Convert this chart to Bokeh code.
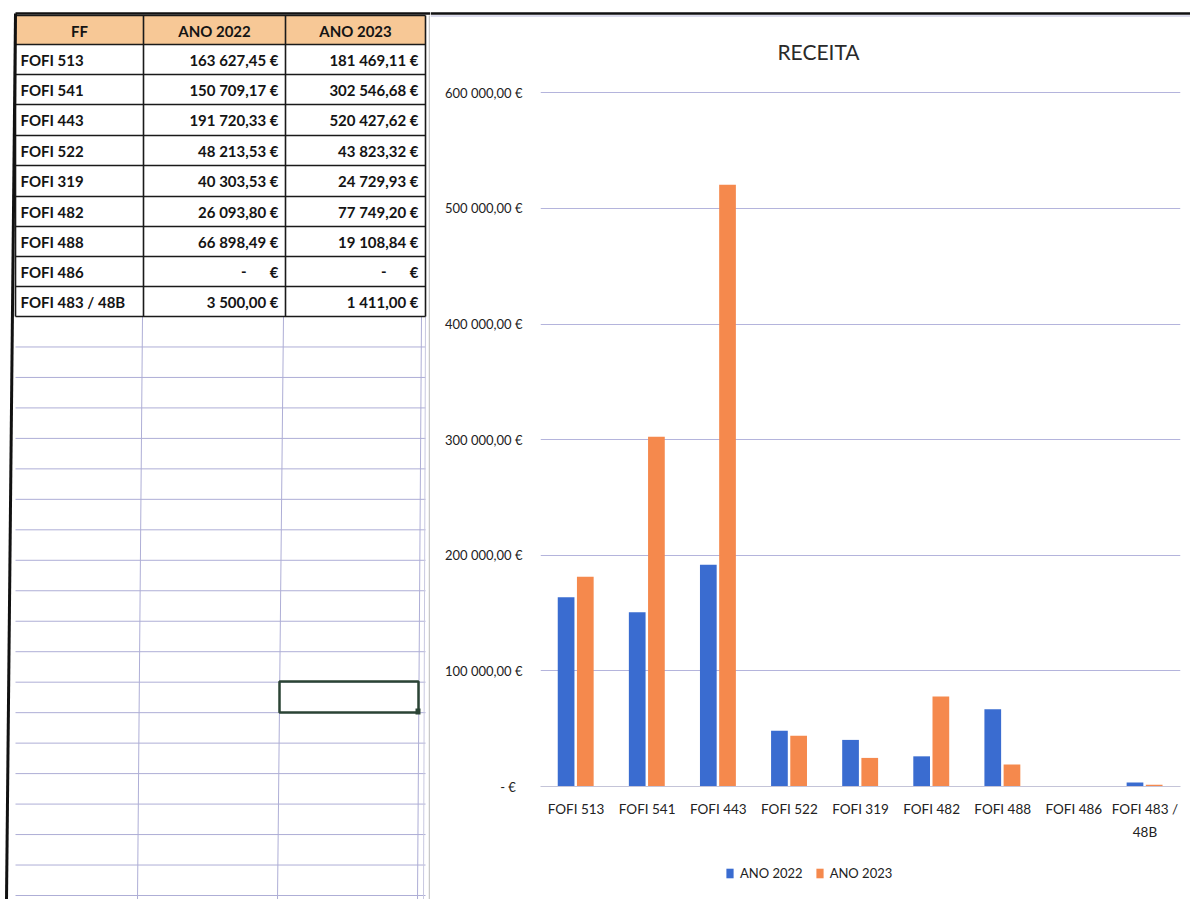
from bokeh.plotting import figure
from bokeh.layouts import row, column
from bokeh.models import (Range1d, FactorRange, CustomJSTickFormatter, FixedTicker,
                          Legend, LegendItem, ColumnDataSource)
from bokeh.transform import dodge
from bokeh.core.properties import value
from bokeh.embed import file_html
from bokeh.resources import INLINE

# ---------------- data ----------------
ff = ["FOFI 513", "FOFI 541", "FOFI 443", "FOFI 522", "FOFI 319",
      "FOFI 482", "FOFI 488", "FOFI 486", "FOFI 483 /\n48B"]
ff_table = ["FOFI 513", "FOFI 541", "FOFI 443", "FOFI 522", "FOFI 319",
            "FOFI 482", "FOFI 488", "FOFI 486", "FOFI 483 /  48B"]
ano_2022 = [163627.45, 150709.17, 191720.33, 48213.53, 40303.53,
            26093.80, 66898.49, 0.0, 3500.00]
ano_2023 = [181469.11, 302546.68, 520427.62, 43823.32, 24729.93,
            77749.20, 19108.84, 0.0, 1411.00]
series = ["ANO 2022", "ANO 2023"]
header = ["FF", "ANO 2022", "ANO 2023"]
y_ticks = [0, 100000, 200000, 300000, 400000, 500000, 600000]
title_text = "RECEITA"

BLUE = "#3A6CD0"
ORANGE = "#F5894D"
FONT = "Lato"
INK = "#141414"


def fmt(v):
    if v == 0:
        return None
    s = f"{v:,.2f}".replace(",", " ").replace(".", ",")
    return s + " €"


def blank(fig):
    fig.frame_align = False
    fig.grid.visible = False
    fig.outline_line_color = None
    fig.background_fill_color = "white"
    fig.border_fill_color = "white"


# ---------------- table (left) ----------------
t = figure(width=430, height=899, x_range=Range1d(0, 430), y_range=Range1d(899, 0),
           output_backend="svg", toolbar_location=None, min_border=0,
           x_axis_type=None, y_axis_type=None)
blank(t)

col_x = [15, 143, 285, 425]
row_y = [15, 44, 74, 104, 135, 165, 196, 226, 256, 286, 316]

# header fill
t.quad(left=[15], right=[425], top=[15], bottom=[44], fill_color="#F7C896", line_color=None)

# light spreadsheet grid below the table
grid_step = (895 - 316) / 19.0
gys = [316 + k * grid_step for k in range(1, 20)]
t.multi_line(xs=[[15, 425]] * len(gys), ys=[[g, g] for g in gys],
             line_color="#AEAED6", line_width=1)
t.multi_line(xs=[[142, 137], [283, 277], [421, 417]], ys=[[316, 899]] * 3,
             line_color="#AEAED6", line_width=1)
t.multi_line(xs=[[425, 423]], ys=[[316, 899]], line_color="#C8C8E0", line_width=1)

# black table lines
t.multi_line(xs=[[15, 425]] * len(row_y), ys=[[y, y] for y in row_y],
             line_color="#1a1a1a", line_width=1.6)
t.multi_line(xs=[[x, x] for x in col_x], ys=[[15, 316]] * len(col_x),
             line_color="#1a1a1a", line_width=1.6)
# outer borders
t.line(x=[15, 430], y=[13, 13], line_color="#111111", line_width=2.5)
t.line(x=[15, 6], y=[13, 899], line_color="#111111", line_width=3)
# chart panel edge
t.line(x=[429, 429], y=[15, 899], line_color="#C8C8C8", line_width=1.5)

# selected cell
t.quad(left=[279], right=[418], top=[681], bottom=[712], fill_color=None,
       line_color="#2B4435", line_width=2.5)
t.quad(left=[415], right=[420], top=[708], bottom=[714], fill_color="#2B4435",
       line_color=None)

# header text
hx = [79, 214, 355]
hy = [30] * 3
t.text(x=hx, y=hy, text=header, text_align="center", text_baseline="middle",
       text_font=value(FONT), text_font_size="15px", text_font_style="bold",
       text_color=INK)

# body text
centers = [(row_y[i] + row_y[i + 1]) / 2 for i in range(1, 10)]
t.text(x=[20] * 9, y=centers, text=ff_table, text_align="left", text_baseline="middle",
       text_font=value(FONT), text_font_size="15px", text_font_style="bold",
       text_color=INK)
for vals, xr in ((ano_2022, 278), (ano_2023, 418)):
    txt, ys, dash_y = [], [], []
    for v, cy in zip(vals, centers):
        s = fmt(v)
        if s is None:
            dash_y.append(cy)
        else:
            txt.append(s)
            ys.append(cy)
    t.text(x=[xr] * len(txt), y=ys, text=txt, text_align="right", text_baseline="middle",
           text_font=value(FONT), text_font_size="15px", text_font_style="bold",
           text_color=INK)
    t.text(x=[xr] * len(dash_y), y=dash_y, text=["€"] * len(dash_y), text_align="right",
           text_baseline="middle", text_font=value(FONT), text_font_size="15px",
           text_font_style="bold", text_color=INK)
    t.text(x=[xr - 32] * len(dash_y), y=dash_y, text=["-"] * len(dash_y), text_align="right",
           text_baseline="middle", text_font=value(FONT), text_font_size="15px",
           text_font_style="bold", text_color=INK)

# ---------------- top strip above chart (border + title) ----------------
STRIP_H = 70
LEG_H = 50
strip = figure(width=760, height=STRIP_H, x_range=Range1d(0, 760), y_range=Range1d(STRIP_H, 0),
               output_backend="svg", toolbar_location=None, min_border=0,
               x_axis_type=None, y_axis_type=None)
blank(strip)
strip.line(x=[0, 760], y=[13, 13], line_color="#111111", line_width=2.5)
strip.line(x=[0, 760], y=[15.5, 15.5], line_color="#B8B8DA", line_width=1)
strip.text(x=[388], y=[51], text=[title_text], text_align="center", text_baseline="middle",
           text_font=value(FONT), text_font_size="21px", text_color="#2a2a2a")

# ---------------- chart (right) ----------------
src = ColumnDataSource(dict(ff=ff, a22=ano_2022, a23=ano_2023))
CH_H = 899 - STRIP_H - LEG_H

p = figure(width=760, height=CH_H, x_range=FactorRange(factors=ff),
           y_range=Range1d(0, 602000), output_backend="svg", toolbar_location=None,
           min_border_left=110, min_border_right=10, min_border_top=90 - STRIP_H,
           min_border_bottom=CH_H - (786 - STRIP_H))
blank(p)
p.grid.visible = True

r1 = p.vbar(x=dodge("ff", -0.14, range=p.x_range), top="a22", width=0.235, source=src,
            fill_color=BLUE, line_color=None)
r2 = p.vbar(x=dodge("ff", 0.13, range=p.x_range), top="a23", width=0.235, source=src,
            fill_color=ORANGE, line_color=None)

p.yaxis.ticker = FixedTicker(ticks=y_ticks)
p.yaxis.formatter = CustomJSTickFormatter(code="""
if (tick == 0) { return "-   €"; }
const s = Math.round(tick).toString().replace(/\\B(?=(\\d{3})+(?!\\d))/g, " ");
return s + ",00 €";
""")
p.yaxis.axis_line_color = None
p.yaxis.major_tick_line_color = None
p.yaxis.minor_tick_line_color = None
p.yaxis.major_tick_out = 0
p.yaxis.major_label_standoff = 18
p.yaxis.major_label_text_font = FONT
p.yaxis.major_label_text_font_size = "13px"
p.yaxis.major_label_text_color = "#222222"

p.xaxis.axis_line_color = "#C4C4D8"
p.xaxis.major_tick_line_color = None
p.xaxis.major_tick_out = 0
p.xaxis.major_label_standoff = 14
p.xaxis.major_label_text_font = FONT
p.xaxis.major_label_text_font_size = "13.5px"
p.xaxis.major_label_text_color = "#222222"
p.xaxis.major_label_text_line_height = 1.45

p.xgrid.grid_line_color = None
p.ygrid.grid_line_color = "#B4B4DC"
p.ygrid.grid_line_width = 1

# ---------------- legend strip below chart ----------------
# the same series are bound here (out of the visible y window) so the legend has swatches
lg = figure(width=760, height=LEG_H, x_range=FactorRange(factors=ff), y_range=Range1d(-2, -1),
            output_backend="svg", toolbar_location=None, min_border=0,
            x_axis_type=None, y_axis_type=None)
blank(lg)
s1 = lg.vbar(x="ff", top="a22", width=0.0005, source=src, fill_color=BLUE, line_color=None)
s2 = lg.vbar(x="ff", top="a23", width=0.0005, source=src, fill_color=ORANGE, line_color=None)
legend = Legend(items=[LegendItem(label=series[0], renderers=[s1]),
                       LegendItem(label=series[1], renderers=[s2])],
                orientation="horizontal", location=(295, LEG_H - 32),
                border_line_color=None, background_fill_alpha=0,
                glyph_width=9, glyph_height=12, label_standoff=6, spacing=12,
                padding=0, margin=0, label_text_font=FONT,
                label_text_font_size="13px", label_text_color="#222222")
lg.add_layout(legend)

layout = row(t, column(strip, p, lg))
open("out.html", "w").write(file_html(layout, INLINE))
